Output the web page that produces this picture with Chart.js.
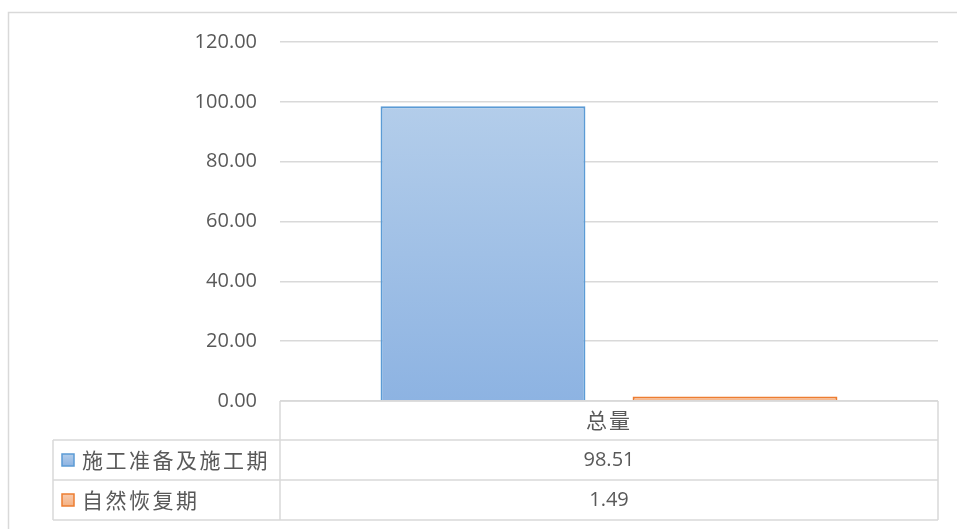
<!DOCTYPE html>
<html>
<head>
<meta charset="utf-8">
<script src="https://cdn.jsdelivr.net/npm/chart.js@4.4.1/dist/chart.umd.min.js"></script>
<style>
  html, body { margin: 0; padding: 0; background: #fff; }
  #wrap { width: 957px; height: 529px; }
</style>
</head>
<body>
<div id="wrap"><canvas id="chartCanvas" width="957" height="529"></canvas></div>
<script>
// --- data ---
const categories = ["总量"];
const seriesNames = ["施工准备及施工期", "自然恢复期"];
const prepValues = [98.51];
const recoveryValues = [1.49];

// Excel-ish palette
const fills = [["#B3CDEA", "#8DB3E2"], ["#F8CBAD", "#F4B183"]];
const borders = ["#5B9BD5", "#ED7D31"];
const gridColor = "#D9D9D9";
const textColor = "#595959";
const numFont = '20px "Open Sans", "Noto Sans CJK SC", sans-serif';
const cjkFont = '21px "Noto Sans CJK SC", "Open Sans", sans-serif';

const canvas = document.getElementById("chartCanvas");

// gradient per bar, from its top down to the zero line
function barFill(idx) {
  return ctx => {
    const chart = ctx.chart;
    const y = chart.scales.y;
    if (!chart.chartArea || !y) return fills[idx][1];
    const top = y.getPixelForValue(ctx.raw);
    const base = y.getPixelForValue(0);
    const g = chart.ctx.createLinearGradient(0, top, 0, base + 0.01);
    g.addColorStop(0, fills[idx][0]);
    g.addColorStop(1, fills[idx][1]);
    return g;
  };
}

// outer frame + data table under the plot
const tablePlugin = {
  id: "dataTable",
  beforeDraw(chart) {
    const c = chart.ctx;
    c.save();
    c.strokeStyle = gridColor;
    c.lineWidth = 1.5;
    c.strokeRect(8.5, 12.5, 1200, 1200);
    c.restore();
  },
  afterDraw(chart) {
    const c = chart.ctx;
    const area = chart.chartArea;
    const x = chart.scales.x;
    const left = 53, rowH = 40;
    const r0 = area.bottom, r1 = r0 + 39, r2 = r1 + 40, r3 = r2 + 40;

    c.save();
    c.strokeStyle = gridColor;
    c.lineWidth = 1.5;
    c.beginPath();
    c.moveTo(area.left, r0); c.lineTo(area.right, r0);
    [r1, r2, r3].forEach(r => { c.moveTo(left, r); c.lineTo(area.right, r); });
    c.moveTo(left, r1); c.lineTo(left, r3);
    c.moveTo(area.left, r0); c.lineTo(area.left, r3);
    c.moveTo(area.right, r0); c.lineTo(area.right, r3);
    c.stroke();

    c.fillStyle = textColor;
    c.textBaseline = "middle";
    c.textAlign = "center";

    // header row: categories
    c.font = cjkFont;
    c.letterSpacing = "2px";
    categories.forEach((cat, i) => c.fillText(cat, x.getPixelForValue(i), (r0 + r1) / 2));

    // value rows
    const rows = [prepValues, recoveryValues];
    c.font = numFont;
    c.letterSpacing = "0px";
    rows.forEach((vals, ri) => {
      const yMid = [r1, r2][ri] + rowH / 2;
      vals.forEach((v, i) => c.fillText(v.toFixed(2), x.getPixelForValue(i), yMid));
    });

    // legend keys + series names
    c.textAlign = "left";
    c.font = cjkFont;
    c.letterSpacing = "2.5px";
    seriesNames.forEach((name, si) => {
      const yMid = [r1, r2][si] + rowH / 2;
      const g = c.createLinearGradient(0, yMid - 6, 0, yMid + 6);
      g.addColorStop(0, fills[si][0]);
      g.addColorStop(1, fills[si][1]);
      c.fillStyle = g;
      c.fillRect(62, yMid - 6, 12, 12);
      c.strokeStyle = borders[si];
      c.lineWidth = 1.5;
      c.strokeRect(62, yMid - 6, 12, 12);
      c.fillStyle = textColor;
      c.fillText(name, 82, yMid);
    });
    c.restore();
  }
};

new Chart(canvas, {
  type: "bar",
  data: {
    labels: categories,
    datasets: [
      {
        label: seriesNames[0],
        data: prepValues,
        backgroundColor: barFill(0),
        borderColor: borders[0],
        borderWidth: 2,
        categoryPercentage: 0.766,
        barPercentage: 0.813
      },
      {
        label: seriesNames[1],
        data: recoveryValues,
        backgroundColor: barFill(1),
        borderColor: borders[1],
        borderWidth: 2,
        categoryPercentage: 0.766,
        barPercentage: 0.813
      }
    ]
  },
  options: {
    responsive: false,
    animation: false,
    devicePixelRatio: 1,
    layout: { padding: { left: 0, right: 19, top: 42, bottom: 128 } },
    plugins: {
      legend: { display: false },
      tooltip: { enabled: false },
      title: { display: false }
    },
    scales: {
      x: { display: false },
      y: {
        min: 0,
        max: 120,
        afterFit: s => { s.width = 280; },
        border: { display: false },
        grid: { color: gridColor, lineWidth: 1.5, drawTicks: false },
        ticks: {
          stepSize: 20,
          padding: 23,
          color: textColor,
          font: { family: '"Open Sans", sans-serif', size: 20 },
          callback: v => v.toFixed(2)
        }
      }
    }
  },
  plugins: [tablePlugin]
});
</script>
</body>
</html>
